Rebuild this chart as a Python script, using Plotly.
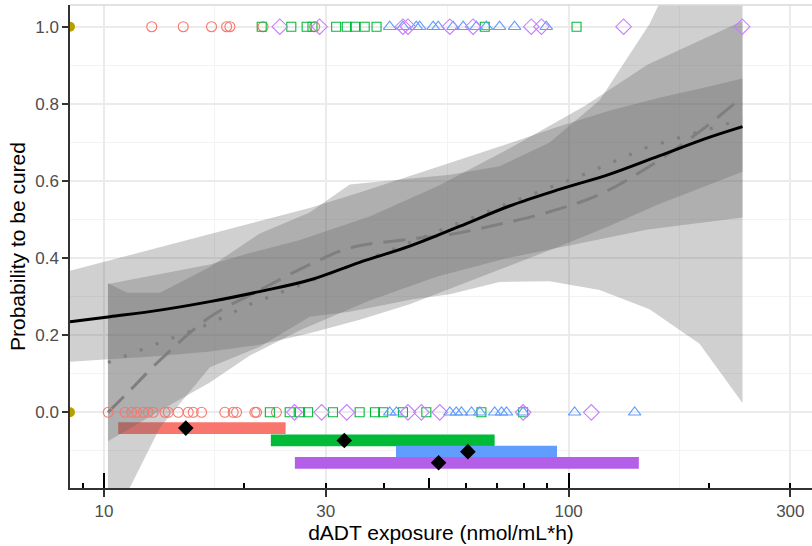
import plotly.graph_objects as go
import numpy as np

# ---------------- data ----------------
# solid logistic fit and its band
solid_x = [8.45, 10.3, 13.19, 16.9, 21.6, 27.7, 35.5, 45.5, 58.2, 74.6, 95.5, 122.3, 156.6, 200.5, 236.7]
solid_y = [0.235, 0.248, 0.265, 0.287, 0.313, 0.343, 0.389, 0.431, 0.482, 0.535, 0.578, 0.617, 0.665, 0.713, 0.741]
solid_lo = [0.131, 0.137, 0.146, 0.158, 0.175, 0.205, 0.240, 0.280, 0.330, 0.380, 0.430, 0.483, 0.540, 0.590, 0.624]
solid_hi = [0.367, 0.394, 0.428, 0.462, 0.496, 0.530, 0.570, 0.612, 0.655, 0.698, 0.742, 0.782, 0.816, 0.845, 0.866]

# dotted linear fit and its band
dot_x = [10.2, 13.19, 16.9, 20.6, 26.4, 37.3, 52.2, 73.2, 108.5, 148.0, 236.7]
dot_y = [0.129, 0.181, 0.230, 0.280, 0.330, 0.399, 0.469, 0.539, 0.618, 0.688, 0.760]
dot_lo = [-0.075, 0.004, 0.077, 0.147, 0.213, 0.290, 0.352, 0.399, 0.441, 0.474, 0.505]
dot_hi = [0.333, 0.358, 0.383, 0.413, 0.447, 0.508, 0.586, 0.679, 0.795, 0.902, 1.015]

# dashed smooth fit and its band
dash_x = [10.2, 11.21, 13.19, 16.9, 21.65, 27.7, 33.8, 46.2, 55.5, 71.0, 91.0, 116.6, 149.3, 191.3, 236.7]
dash_y = [0.0, 0.049, 0.135, 0.247, 0.317, 0.383, 0.426, 0.450, 0.461, 0.488, 0.520, 0.565, 0.638, 0.728, 0.818]
dash_lo = [-0.335, -0.210, -0.040, 0.117, 0.170, 0.248, 0.261, 0.293, 0.306, 0.338, 0.340, 0.317, 0.267, 0.178, 0.024]
dash_hi = [0.335, 0.310, 0.310, 0.377, 0.464, 0.518, 0.591, 0.607, 0.616, 0.638, 0.700, 0.809, 1.007, 1.278, 1.612]

# observations (dADT exposure) cured (1) / not cured (0) per dose group
red_1 = [12.67, 14.81, 17.04, 18.36, 18.66, 22.0, 28.4]
green_1 = [21.85, 25.3, 27.3, 28.1, 31.6, 33.3, 34.7, 36.4, 38.6, 66.0, 104.0]
blue_1 = [41.2, 44.0, 47.0, 47.8, 51.1, 52.4, 56.4, 59.3, 63.3, 66.5, 71.0, 76.5, 89.5]
purple_1 = [23.9, 29.1, 44.0, 45.1, 55.5, 62.3, 83.1, 87.4, 131.3, 236.3]

red_0 = [10.21, 11.10, 11.47, 11.76, 12.15, 12.45, 12.76, 13.53, 13.75, 14.45, 15.18, 15.56,
         16.22, 18.2, 18.97, 19.29, 21.12, 21.3, 23.5]
green_0 = [22.75, 25.1, 26.4, 27.5, 31.1, 35.5, 38.3, 39.9, 44.0, 49.4, 64.9, 79.8]
blue_0 = [41.2, 42.6, 55.5, 57.3, 58.8, 61.8, 64.4, 69.3, 71.7, 73.5, 79.8, 103.0, 138.7]
purple_0 = [25.7, 29.4, 33.3, 45.1, 48.2, 52.8, 79.8, 111.9]

yellow_x = [8.45, 8.45]
yellow_y = [0, 1]

# exposure ranges per dose group and medians
grp_names = ["red", "green", "blue", "purple"]
grp_lo = [10.73, 22.86, 42.5, 25.75]
grp_hi = [24.6, 69.3, 94.4, 141.6]
grp_med = [15.0, 32.9, 60.7, 52.5]
grp_ypos = [-0.041, -0.073, -0.102, -0.131]

x_ticks = [10, 30, 100, 300]
x_ticktext = ["10", "30", "100", "300"]
x_minor_grid = [17.32, 54.77, 173.2]
y_ticks = [0, 0.2, 0.4, 0.6, 0.8, 1.0]
y_ticktext = ["0.0", "0.2", "0.4", "0.6", "0.8", "1.0"]
logtick_long = [10, 100]
logtick_mid = [50]
logtick_short = [9, 20, 30, 40, 60, 70, 80, 90, 200, 300]

# ---------------- styles ----------------
COL = {"red": "#F8766D", "green": "#00BA38", "blue": "#619CFF", "purple": "#C77CFF"}
BARCOL = {"red": "#F8766D", "green": "#00BA38", "blue": "#619CFF", "purple": "#B45FE8"}
BAND = "rgba(100,100,100,0.30)"
FONT = "Liberation Sans, Arial, sans-serif"

fig = go.Figure()


def band(x, lo, hi):
    fig.add_trace(go.Scatter(x=list(x) + list(x)[::-1], y=list(hi) + list(lo)[::-1],
                             fill="toself", fillcolor=BAND, mode="lines",
                             line=dict(width=0), hoverinfo="skip", showlegend=False))


band(dash_x, dash_lo, dash_hi)
band(dot_x, dot_lo, dot_hi)
band(solid_x, solid_lo, solid_hi)

fig.add_trace(go.Scatter(x=dash_x, y=dash_y, mode="lines", line_shape="spline",
                         line=dict(color="#7F7F7F", width=3, dash="22px,11px"), showlegend=False))
fig.add_trace(go.Scatter(x=dot_x, y=dot_y, mode="lines",
                         line=dict(color="#7F7F7F", width=3.2, dash="3px,14px"), showlegend=False))
fig.add_trace(go.Scatter(x=solid_x, y=solid_y, mode="lines", line_shape="spline",
                         line=dict(color="black", width=3), showlegend=False))

sym = {"red": ("circle-open", 10), "green": ("square-open", 9),
       "blue": ("triangle-up-open", 11), "purple": ("diamond-open", 12)}
obs = {"red": (red_0, red_1), "green": (green_0, green_1),
       "blue": (blue_0, blue_1), "purple": (purple_0, purple_1)}
for g in grp_names:
    x0, x1 = obs[g]
    s, sz = sym[g]
    fig.add_trace(go.Scatter(x=x0 + x1, y=[0] * len(x0) + [1] * len(x1), mode="markers",
                             marker=dict(symbol=s, size=sz, color=COL[g], line=dict(width=1.1)),
                             showlegend=False))

fig.add_trace(go.Scatter(x=yellow_x, y=yellow_y, mode="markers",
                         marker=dict(symbol="circle", size=10, color="#B79F00"), showlegend=False))

for i, g in enumerate(grp_names):
    fig.add_trace(go.Bar(y=[grp_ypos[i]], x=[grp_hi[i] - grp_lo[i]], base=[grp_lo[i]],
                         orientation="h", width=0.0305, marker=dict(color=BARCOL[g], line=dict(width=0)),
                         showlegend=False))

fig.add_trace(go.Scatter(x=grp_med, y=grp_ypos, mode="markers",
                         marker=dict(symbol="diamond", size=12, color="black"), showlegend=False))

xr = [np.log10(8.45), np.log10(334)]
fig.update_layout(
    width=812, height=546, margin=dict(l=70, r=0, t=5, b=58),
    paper_bgcolor="white", plot_bgcolor="white", barmode="overlay",
    font=dict(family=FONT, size=17, color="#4D4D4D"),
    xaxis=dict(type="log", range=xr, tickvals=x_ticks, ticktext=x_ticktext, automargin=False,
               ticks="outside", ticklen=7, tickwidth=1.5, tickcolor="#333333",
               showline=True, linecolor="#333333", linewidth=1.5,
               showgrid=True, gridcolor="#EBEBEB", gridwidth=1.6, zeroline=False,
               minor=dict(tickvals=x_minor_grid, showgrid=True, gridcolor="#F3F3F3", gridwidth=1, ticks=""),
               tickfont=dict(size=17, color="#4D4D4D"),
               title=dict(text="dADT exposure (nmol/mL*h)", font=dict(size=21, color="black"), standoff=4)),
    yaxis=dict(range=[-0.1963, 1.0563], tickvals=y_ticks, ticktext=y_ticktext, automargin=False,
               ticks="outside", ticklen=6, tickwidth=1.5, tickcolor="#333333",
               showline=True, linecolor="#333333", linewidth=1.5,
               showgrid=True, gridcolor="#EBEBEB", gridwidth=1.6, zeroline=False,
               minor=dict(dtick=0.1, tick0=0.1, showgrid=True, gridcolor="#F3F3F3", gridwidth=1, ticks=""),
               tickfont=dict(size=17, color="#4D4D4D"),
               title=dict(text="Probability to be cured", font=dict(size=21, color="black"), standoff=4)),
)

# inside log ticks (annotation_logticks style) on overlaying axes
for name, vals, ln in (("xaxis2", logtick_long, 15), ("xaxis3", logtick_mid, 10), ("xaxis4", logtick_short, 5)):
    fig.update_layout(**{name: dict(type="log", range=xr, overlaying="x", anchor="y", side="bottom",
                                    tickvals=vals, showticklabels=False, ticks="inside", ticklen=ln,
                                    tickwidth=2, tickcolor="black", showgrid=False, showline=False,
                                    zeroline=False, automargin=False)})
for i, name in enumerate(("x2", "x3", "x4")):
    fig.add_trace(go.Scatter(x=[10], y=[None], xaxis=name, yaxis="y", showlegend=False, hoverinfo="skip"))

# light panel border on top
fig.add_shape(type="line", xref="paper", yref="paper", x0=0, x1=1, y0=1, y1=1,
              line=dict(color="#D9D9D9", width=1.5))

fig.write_html("out.html", config={"displayModeBar": False},
               post_script="document.body.style.margin='0';document.body.style.overflow='hidden';")
